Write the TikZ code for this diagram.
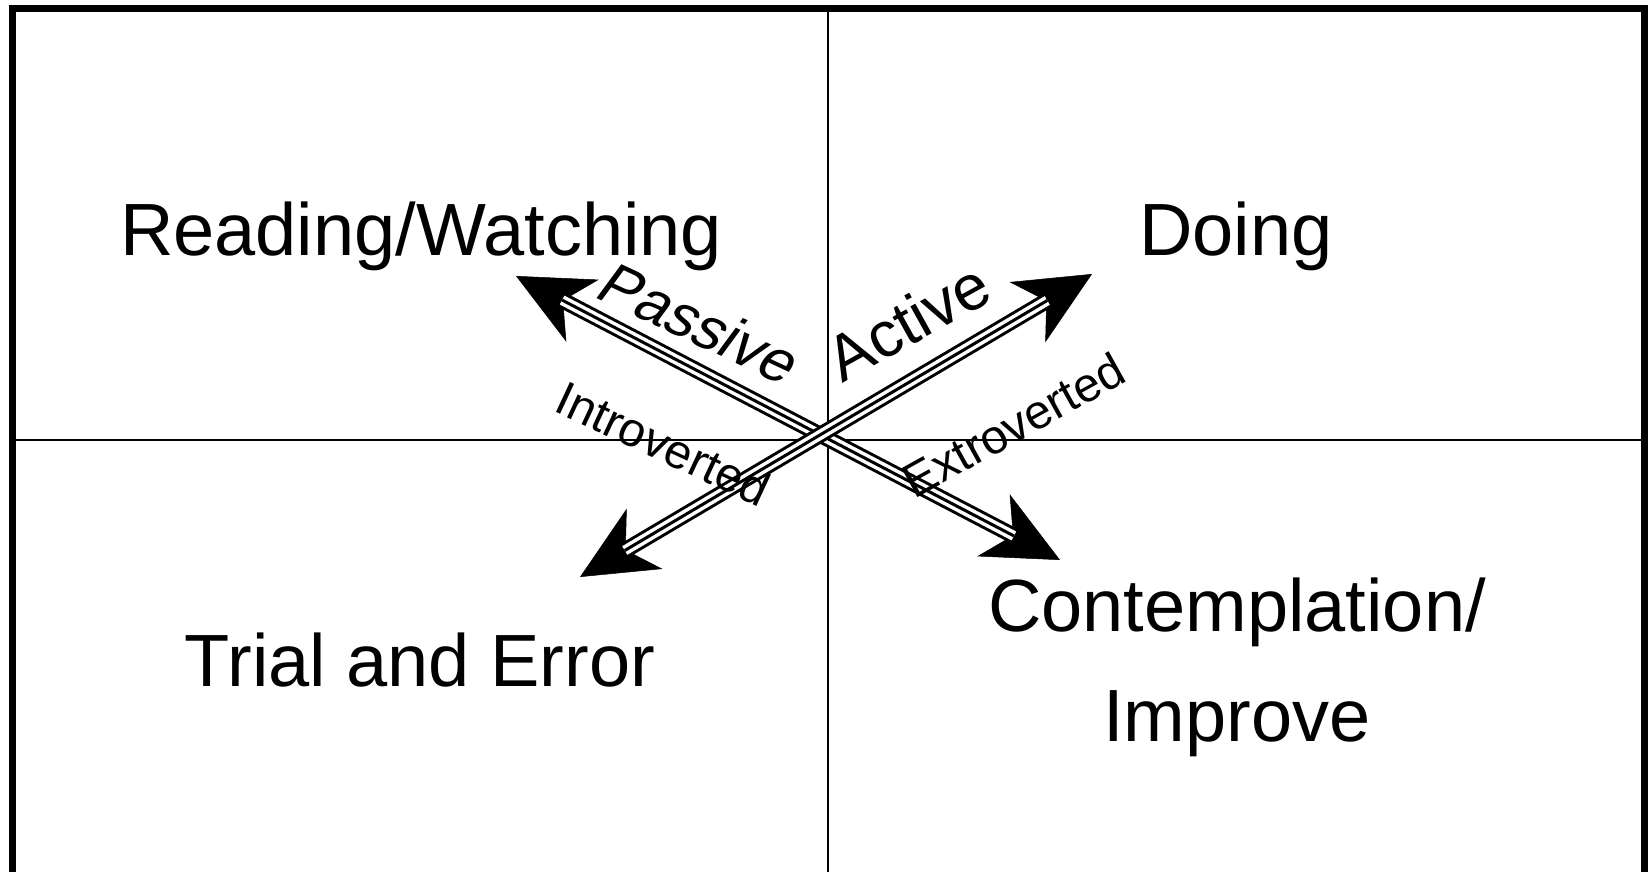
\documentclass[tikz,border=0pt]{standalone}
\usepackage{fontspec}
\setmainfont{Liberation Sans}
\usetikzlibrary{arrows.meta}

\begin{document}
\begin{tikzpicture}[x=1pt,y=1pt,
		>={Stealth[length=75pt,width=70pt,inset=22pt,line width=0.5pt]},
		big/.style={font=\fontsize{74}{110}\selectfont, anchor=base},
		side/.style={font=\fontsize{60}{72}\selectfont, anchor=base},
		small/.style={font=\fontsize{48}{58}\selectfont, anchor=base},
		shaft/.style={<->, line width=16pt},
		strand/.style={white, line width=10pt, shorten <=52pt, shorten >=52pt},
		core/.style={line width=3pt, shorten <=52pt, shorten >=52pt}]
	\useasboundingbox (0,0) rectangle (1651,871);
	\clip (0,0) rectangle (1651,871);
	% Frame and quadrants
	\draw [line width=7pt] (12,-10) rectangle (1644,862.5);
	\draw [line width=2.2pt] (828,862.5) -- (828,-10);
	\draw [line width=2.2pt] (12,431) -- (1644,431);
	% Quadrant labels
	\node [big] (read) at (421,615) {Reading/Watching};
	\node [big] (doing) at (1236,615) {Doing};
	\node [big] (trial) at (420,185) {Trial and Error};
	\node [big, anchor=center, align=center] (contemp) at (1237,204) {Contemplation/\\Improve};
	% Arrows
	\coordinate (ul) at (516,595);
	\coordinate (lr) at (1060,311);
	\coordinate (ur) at (1092,597);
	\coordinate (ll) at (580,294);
	\draw [shaft] (ul) -- (lr);
	\draw [strand] (ul) -- (lr);
	\draw [core] (ul) -- (lr);
	\draw [shaft] (ur) -- (ll);
	\draw [strand] (ur) -- (ll);
	\draw [core] (ur) -- (ll);
	% Arrow labels
	\node [side, rotate=-25, xslant=0.2] (passive) at (688,530) {Passive};
	\node [side, font=\fontsize{64}{76}\selectfont, rotate=29] (active) at (919,530) {Active};
	\node [small, rotate=-25] (intro) at (656,412) {Introverted};
	\node [small, rotate=29] (extro) at (1022,431) {Extroverted};
\end{tikzpicture}
\end{document}
